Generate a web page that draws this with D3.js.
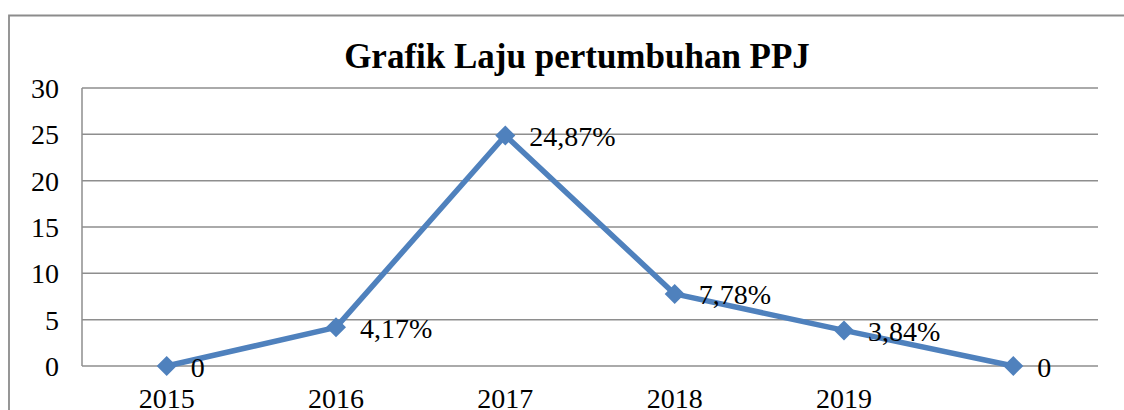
<!DOCTYPE html>
<html><head><meta charset="utf-8">
<script src="https://cdn.jsdelivr.net/npm/d3@7/dist/d3.min.js"></script>
<style>body{margin:0;background:#fff;} svg{display:block;}</style>
</head><body>
<svg id="c" width="1124" height="410"></svg>
<script>
const categories = ["2015","2016","2017","2018","2019",""];
const values = [0, 4.17, 24.87, 7.78, 3.84, 0];
const labels = ["0","4,17%","24,87%","7,78%","3,84%","0"];
const yTicks = [0,5,10,15,20,25,30];
const title = "Grafik Laju pertumbuhan PPJ";

const svg = d3.select("#c");
const font = '"Liberation Serif"';
const m = {left:82, right:1098, top:88, bottom:366};
const color = "#4F81BD";

svg.append("path").attr("d","M9,410 L9,15.5 L1124,15.5")
  .attr("fill","none").attr("stroke","#8c8c8c").attr("stroke-width",1.8);

const x = d3.scaleBand().domain(categories.map((d,i)=>i)).range([m.left,m.right]);
const y = d3.scaleLinear().domain([0,30]).range([m.bottom,m.top]);

svg.append("g").selectAll("line").data(yTicks).join("line")
  .attr("x1",m.left).attr("x2",m.right)
  .attr("y1",d=>y(d)).attr("y2",d=>y(d))
  .attr("stroke","#8e8e8e").attr("stroke-width",1.5);
svg.append("line").attr("x1",m.left).attr("x2",m.left).attr("y1",m.top).attr("y2",m.bottom)
  .attr("stroke","#8e8e8e").attr("stroke-width",1.5);

const yAxis = d3.axisLeft(y).tickValues(yTicks).tickSize(0).tickPadding(23);
const gy = svg.append("g").attr("transform",`translate(${m.left},0)`).call(yAxis);
gy.select(".domain").remove();
gy.attr("font-family",null).attr("font-size",null);
gy.selectAll("text").style("font-family",font).style("font-size","28px").attr("fill","#000").attr("dy","0.34em");

const xAxis = d3.axisBottom(x).tickFormat(i=>categories[i]).tickSize(0).tickPadding(42);
const gx = svg.append("g").attr("transform",`translate(0,${m.bottom})`).call(xAxis);
gx.select(".domain").remove();
gx.attr("font-family",null).attr("font-size",null);
gx.selectAll("text").style("font-family",font).style("font-size","28px").attr("fill","#000").attr("dy",null);

const cx = i => x(i) + x.bandwidth()/2;
const line = d3.line().x((d,i)=>cx(i)).y(d=>y(d));
svg.append("path").datum(values).attr("d",line)
  .attr("fill","none").attr("stroke",color).attr("stroke-width",5.5).attr("stroke-linejoin","round");

svg.append("g").selectAll("path").data(values).join("path")
  .attr("transform",(d,i)=>`translate(${cx(i)},${y(d)})`)
  .attr("d","M0,-10 L10,0 L0,10 L-10,0 Z").attr("fill",color);

svg.append("g").selectAll("text").data(values).join("text")
  .attr("x",(d,i)=>cx(i)+24).attr("y",d=>y(d)+10.5)
  .style("font-family",font).style("font-size","28px").attr("fill","#000")
  .text((d,i)=>labels[i]);

svg.append("text").attr("x",577).attr("y",68).attr("text-anchor","middle")
  .style("font-family",font).style("font-size","35px").style("font-weight","bold").text(title);
</script>
</body></html>
